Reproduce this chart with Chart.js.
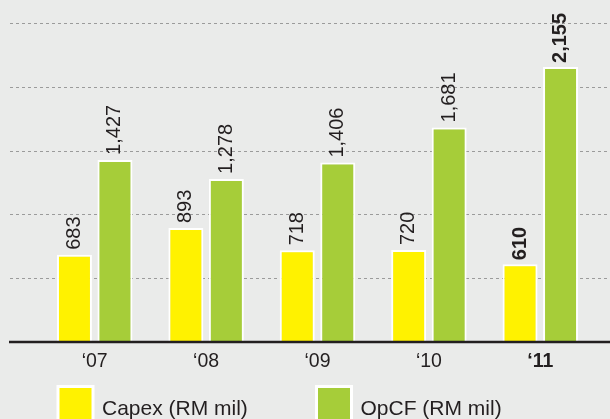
<!DOCTYPE html>
<html>
<head>
<meta charset="utf-8">
<script src="https://cdn.jsdelivr.net/npm/chart.js@4/dist/chart.umd.min.js"></script>
<style>
  html, body { margin: 0; padding: 0; background: #eaebea; }
  #wrap { width: 610px; height: 419px; position: relative; }
  canvas { display: block; }
</style>
</head>
<body>
<div id="wrap"><canvas id="c" width="610" height="419"></canvas></div>
<script>
const categories = ['\u201807', '\u201808', '\u201809', '\u201810', '\u201811'];
const capex = [683, 893, 718, 720, 610];
const opcf = [1427, 1278, 1406, 1681, 2155];
const gridTicks = [500, 1000, 1500, 2000, 2500];
const seriesNames = ['Capex (RM mil)', 'OpCF (RM mil)'];
const highlightIndex = 4;

const FONT = '"Liberation Sans", Arial, Helvetica, sans-serif';
const YELLOW = '#fff200';
const GREEN = '#a6cd39';
const TEXT = '#231f20';

const bgPlugin = {
  id: 'bg',
  beforeDraw(chart) {
    const ctx = chart.ctx;
    ctx.save();
    ctx.fillStyle = '#eaebea';
    ctx.fillRect(0, 0, chart.width, chart.height);
    ctx.restore();
  }
};

const gridPlugin = {
  id: 'fullGrid',
  beforeDatasetsDraw(chart) {
    const ctx = chart.ctx, y = chart.scales.y;
    ctx.save();
    ctx.strokeStyle = '#9b9b9b';
    ctx.lineWidth = 1;
    ctx.setLineDash([3, 3]);
    gridTicks.forEach(v => {
      const py = Math.round(y.getPixelForValue(v)) + 0.5;
      ctx.beginPath();
      ctx.moveTo(10, py);
      ctx.lineTo(chart.width, py);
      ctx.stroke();
    });
    ctx.restore();
  },
  afterDatasetsDraw(chart) {
    const ctx = chart.ctx, y = chart.scales.y;
    ctx.save();
    // baseline axis
    const py = y.getPixelForValue(0);
    ctx.strokeStyle = TEXT;
    ctx.lineWidth = 2.5;
    ctx.beginPath();
    ctx.moveTo(9, py);
    ctx.lineTo(chart.width, py);
    ctx.stroke();
    // value labels
    ctx.fillStyle = TEXT;
    ctx.textAlign = 'left';
    ctx.textBaseline = 'middle';
    chart.data.datasets.forEach((ds, di) => {
      const meta = chart.getDatasetMeta(di);
      meta.data.forEach((el, i) => {
        const bold = i === highlightIndex;
        ctx.font = (bold ? 'bold ' : '') + '20px ' + FONT;
        ctx.save();
        ctx.translate(el.x, el.y - (bold ? 4 : 5));
        ctx.rotate(-Math.PI / 2);
        ctx.fillText(ds.data[i].toLocaleString('en-US'), 0, 0);
        ctx.restore();
      });
    });
    ctx.restore();
  },
  afterDraw(chart) {
    // legend
    const ctx = chart.ctx;
    const starts = [58, 316.5];
    ctx.save();
    chart.data.datasets.forEach((ds, i) => {
      const x = starts[i];
      ctx.fillStyle = ds.backgroundColor;
      ctx.strokeStyle = '#ffffff';
      ctx.lineWidth = 3;
      ctx.fillRect(x, 386.5, 35, 40);
      ctx.strokeRect(x, 386.5, 35, 40);
      ctx.fillStyle = TEXT;
      ctx.font = '21px ' + FONT;
      ctx.textAlign = 'left';
      ctx.textBaseline = 'alphabetic';
      ctx.fillText(ds.label, x + 44, 415);
    });
    ctx.restore();
  }
};

new Chart(document.getElementById('c'), {
  type: 'bar',
  data: {
    labels: categories,
    datasets: [
      { label: seriesNames[0], data: capex, backgroundColor: YELLOW, borderColor: '#ffffff', borderWidth: 2, borderSkipped: 'bottom' },
      { label: seriesNames[1], data: opcf, backgroundColor: GREEN, borderColor: '#ffffff', borderWidth: 2, borderSkipped: 'bottom' }
    ]
  },
  options: {
    responsive: false,
    animation: false,
    devicePixelRatio: 1,
    layout: { padding: { left: 39, right: 14, top: 0, bottom: 37.6 } },
    datasets: { bar: { categoryPercentage: 0.727, barPercentage: 0.864 } },
    plugins: { legend: { display: false }, tooltip: { enabled: false } },
    scales: {
      x: {
        grid: { display: false, drawTicks: false },
        border: { display: false },
        ticks: {
          padding: 8,
          color: TEXT,
          font: (ctx) => ({ family: FONT, size: 19.5, lineHeight: 1.2, weight: ctx.index === highlightIndex ? 'bold' : 'normal' })
        }
      },
      y: {
        display: false,
        min: 0,
        max: 2680
      }
    }
  },
  plugins: [bgPlugin, gridPlugin]
});
</script>
</body>
</html>
